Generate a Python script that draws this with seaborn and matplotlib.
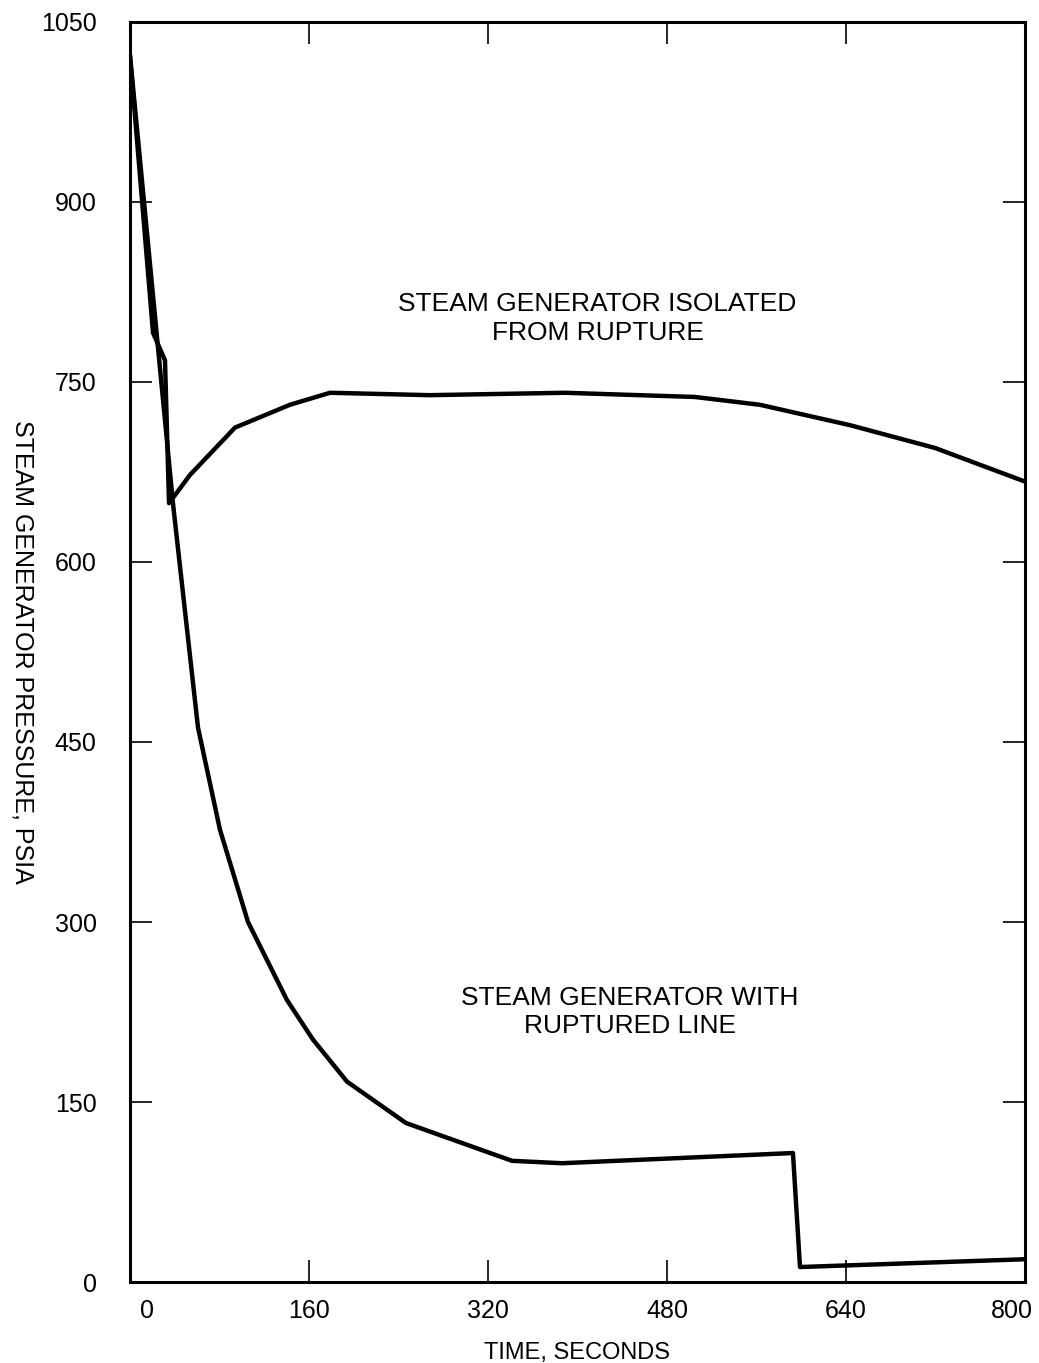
"""
Steam generator pressure after a steam line rupture.

Two pressure traces: the generator with the ruptured line and the one isolated from it.
"""
import matplotlib
matplotlib.use('Agg')
import matplotlib.pyplot as plt
import matplotlib.transforms as mtransforms
import seaborn as sns
import numpy as np
import pandas as pd

# Ruptured line trace (time in s, pressure in psia)
ruptured_time = [0, 38.4, 60.8, 80.4, 105.5, 140.3, 163.6, 194, 246.7,
                 341.5, 386.1, 592.6, 598.9, 800]
ruptured_psia = [1022, 649, 462, 377, 300, 235, 202, 167, 132.5,
                 101, 99, 107.5, 12.5, 19]

# Isolated generator trace
isolated_time = [0, 20.6, 31.3, 34.9, 53.6, 93.9, 143, 178.8, 268,
                 388.8, 505, 563, 643.6, 719.6, 800]
isolated_psia = [1022, 791, 768, 649, 672.5, 712, 731, 741, 739,
                 741, 737.5, 731, 714, 695, 667]

x_ticks = [0, 160, 320, 480, 640, 800]
y_ticks = [0, 150, 300, 450, 600, 750, 900, 1050]

sns.set_style('ticks')
plt.rcParams['font.family'] = ['Liberation Sans', 'DejaVu Sans']
plt.rcParams['text.color'] = 'black'
plt.rcParams['axes.labelcolor'] = 'black'

fig = plt.figure(figsize=(10.39, 13.63), dpi=100)
ax = fig.add_axes([0.1251, 0.0594, 0.8614, 0.9245])

df_r = pd.DataFrame({'time': ruptured_time, 'psia': ruptured_psia})
df_i = pd.DataFrame({'time': isolated_time, 'psia': isolated_psia})

sns.lineplot(data=df_r, x='time', y='psia', color='black', linewidth=3.2,
             sort=False, ax=ax)
sns.lineplot(data=df_i, x='time', y='psia', color='black', linewidth=3.2,
             sort=False, ax=ax)

ax.set_xlim(0, 800)
ax.set_ylim(0, 1050)
ax.set_xticks(x_ticks)
ax.set_yticks(y_ticks)

ax.tick_params(axis='both', which='major', direction='in', length=16, width=1.2,
               top=True, right=True, labelsize=18, colors='black')
ax.tick_params(axis='y', pad=24)
ax.tick_params(axis='x', pad=12)

# end labels on the time axis sit a little inside the frame in the original
xlabels = ax.get_xticklabels()
shift_r = mtransforms.ScaledTranslation(17 / 100, 0, fig.dpi_scale_trans)
shift_l = mtransforms.ScaledTranslation(-13 / 100, 0, fig.dpi_scale_trans)
xlabels[0].set_transform(xlabels[0].get_transform() + shift_r)
xlabels[-1].set_transform(xlabels[-1].get_transform() + shift_l)

for side in ['left', 'right', 'top', 'bottom']:
    ax.spines[side].set_linewidth(2.2)
    ax.spines[side].set_color('black')

ax.set_xlabel('TIME, SECONDS', fontsize=17, labelpad=14)
ax.set_ylabel('STEAM GENERATOR PRESSURE, PSIA', fontsize=18, labelpad=22,
              rotation=270, va='bottom')

ax.text(418, 803, 'STEAM GENERATOR ISOLATED\nFROM RUPTURE', fontsize=19,
        ha='center', va='center', linespacing=1.25)
ax.text(447, 225, 'STEAM GENERATOR WITH\nRUPTURED LINE', fontsize=19,
        ha='center', va='center', linespacing=1.25)

fig.savefig('out.png', dpi=100)
